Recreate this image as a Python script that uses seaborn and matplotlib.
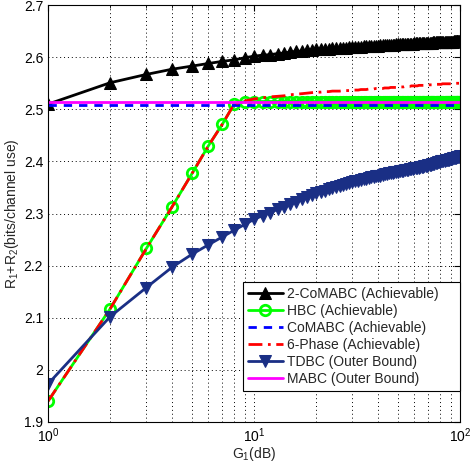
import numpy as np
import pandas as pd
import matplotlib
matplotlib.use("Agg")
import matplotlib.pyplot as plt
import seaborn as sns
from matplotlib.ticker import LogLocator, NullFormatter, FixedLocator

# ------------------------------------------------------------
# Dados, G1 = 1..100
# ------------------------------------------------------------
g1 = list(range(1, 101))

comabc2 = [
    2.510, 2.551, 2.567, 2.577, 2.583, 2.588, 2.592, 2.595, 2.599, 2.602,
    2.604, 2.605, 2.607, 2.608, 2.610, 2.611, 2.612, 2.613, 2.614, 2.615,
    2.615, 2.616, 2.616, 2.617, 2.617, 2.618, 2.618, 2.618, 2.619, 2.619,
    2.620, 2.620, 2.620, 2.621, 2.621, 2.621, 2.622, 2.622, 2.622, 2.622,
    2.623, 2.623, 2.623, 2.623, 2.624, 2.624, 2.624, 2.624, 2.625, 2.625,
    2.625, 2.625, 2.625, 2.626, 2.626, 2.626, 2.626, 2.626, 2.626, 2.627,
    2.627, 2.627, 2.627, 2.627, 2.627, 2.628, 2.628, 2.628, 2.628, 2.628,
    2.628, 2.628, 2.628, 2.629, 2.629, 2.629, 2.629, 2.629, 2.629, 2.629,
    2.629, 2.630, 2.630, 2.630, 2.630, 2.630, 2.630, 2.630, 2.630, 2.630,
    2.630, 2.630, 2.631, 2.631, 2.631, 2.631, 2.631, 2.631, 2.631, 2.631,
]

hbc = [1.940, 2.117, 2.233, 2.313, 2.377, 2.430, 2.471, 2.510] + [2.515] * 92

comabc = [2.508] * 100

six_phase = [
    1.940, 2.117, 2.233, 2.313, 2.377, 2.430, 2.471, 2.510, 2.516, 2.520,
    2.522, 2.524, 2.525, 2.526, 2.528, 2.529, 2.530, 2.531, 2.532, 2.533,
    2.533, 2.534, 2.534, 2.535, 2.535, 2.535, 2.536, 2.536, 2.536, 2.537,
    2.537, 2.537, 2.538, 2.538, 2.538, 2.539, 2.539, 2.539, 2.540, 2.540,
    2.540, 2.540, 2.541, 2.541, 2.541, 2.542, 2.542, 2.542, 2.542, 2.543,
    2.543, 2.543, 2.543, 2.544, 2.544, 2.544, 2.544, 2.545, 2.545, 2.545,
    2.545, 2.545, 2.546, 2.546, 2.546, 2.546, 2.546, 2.547, 2.547, 2.547,
    2.547, 2.547, 2.547, 2.548, 2.548, 2.548, 2.548, 2.548, 2.548, 2.548,
    2.548, 2.549, 2.549, 2.549, 2.549, 2.549, 2.549, 2.549, 2.549, 2.549,
    2.549, 2.549, 2.550, 2.550, 2.550, 2.550, 2.550, 2.550, 2.550, 2.550,
]

tdbc = [
    1.973, 2.102, 2.158, 2.197, 2.222, 2.240, 2.255, 2.268, 2.279, 2.289,
    2.296, 2.302, 2.308, 2.313, 2.318, 2.323, 2.327, 2.331, 2.335, 2.339,
    2.342, 2.344, 2.347, 2.349, 2.351, 2.353, 2.355, 2.357, 2.359, 2.361,
    2.362, 2.363, 2.365, 2.366, 2.367, 2.369, 2.370, 2.371, 2.372, 2.372,
    2.373, 2.374, 2.375, 2.376, 2.377, 2.378, 2.378, 2.379, 2.379, 2.380,
    2.381, 2.382, 2.382, 2.383, 2.384, 2.384, 2.385, 2.385, 2.386, 2.387,
    2.387, 2.388, 2.388, 2.389, 2.390, 2.390, 2.391, 2.391, 2.392, 2.393,
    2.394, 2.394, 2.395, 2.395, 2.396, 2.397, 2.397, 2.398, 2.398, 2.399,
    2.400, 2.400, 2.401, 2.401, 2.402, 2.402, 2.403, 2.403, 2.404, 2.405,
    2.405, 2.406, 2.406, 2.407, 2.407, 2.408, 2.408, 2.409, 2.409, 2.410,
]

mabc = [2.515] * 100

df = pd.DataFrame({
    "G1": g1,
    "2-CoMABC (Achievable)": comabc2,
    "HBC (Achievable)": hbc,
    "CoMABC (Achievable)": comabc,
    "6-Phase (Achievable)": six_phase,
    "TDBC (Outer Bound)": tdbc,
    "MABC (Outer Bound)": mabc,
})

# ------------------------------------------------------------
# Estilo
# ------------------------------------------------------------
sns.set_style("white")
plt.rcParams["font.family"] = ["Liberation Sans", "DejaVu Sans"]
plt.rcParams["mathtext.fontset"] = "custom"
plt.rcParams["mathtext.rm"] = "Liberation Sans"
plt.rcParams["mathtext.it"] = "Liberation Sans"
plt.rcParams["font.size"] = 10

fig = plt.figure(figsize=(4.71, 4.65), dpi=100)
ax = fig.add_axes([0.102, 0.0925, 0.875, 0.8965])

estilos = {
    "2-CoMABC (Achievable)": dict(color="black", marker="^", markersize=8.5, linestyle="-"),
    "HBC (Achievable)": dict(color="#00ff00", marker="o", markersize=7.5, markerfacecolor="none",
                             markeredgecolor="#00ff00", markeredgewidth=2, linestyle="-"),
    "CoMABC (Achievable)": dict(color="#0000ff", linestyle=(0, (3, 2.5))),
    "6-Phase (Achievable)": dict(color="#ff0000", linestyle=(0, (5, 2, 1, 2))),
    "TDBC (Outer Bound)": dict(color="#1a2f85", marker="v", markersize=8.5, linestyle="-"),
    "MABC (Outer Bound)": dict(color="#ff00ff", linestyle="-"),
}

for nome, est in estilos.items():
    sns.lineplot(data=df, x="G1", y=nome, ax=ax, label=nome, linewidth=2,
                 markeredgecolor=est.pop("markeredgecolor", est["color"]), **est)

ax.set_xscale("log")
ax.set_xlim(1, 100)
ax.set_ylim(1.9, 2.7)
ax.yaxis.set_major_locator(FixedLocator([1.9, 2.0, 2.1, 2.2, 2.3, 2.4, 2.5, 2.6, 2.7]))
ax.set_yticklabels(["1.9", "2", "2.1", "2.2", "2.3", "2.4", "2.5", "2.6", "2.7"])
ax.xaxis.set_minor_locator(LogLocator(base=10, subs=np.arange(2, 10)))
ax.xaxis.set_minor_formatter(NullFormatter())

ax.grid(True, which="major", color="black", linestyle=(0, (1, 3)), linewidth=0.7)
ax.grid(True, which="minor", axis="x", color="black", linestyle=(0, (1, 3)), linewidth=0.7)
ax.tick_params(which="both", direction="in", top=True, right=True, colors="black", labelsize=10)
ax.tick_params(which="major", length=4)
ax.tick_params(which="minor", length=2)
for s in ax.spines.values():
    s.set_color("black")
    s.set_linewidth(0.8)

ax.set_xlabel("G$_1$(dB)", labelpad=0)
ax.set_ylabel("R$_1$+R$_2$(bits/channel use)", labelpad=2)

leg = ax.legend(loc="upper left", bbox_to_anchor=(0.473, 0.0695, 0.527, 0.2665),
                mode="expand", borderaxespad=0,
                frameon=True, fancybox=False, framealpha=1, edgecolor="black",
                handlelength=2.5, labelspacing=0.22, fontsize=10, borderpad=0.35,
                handletextpad=0.3)
leg.get_frame().set_linewidth(0.8)

fig.savefig("out.png", dpi=100)
